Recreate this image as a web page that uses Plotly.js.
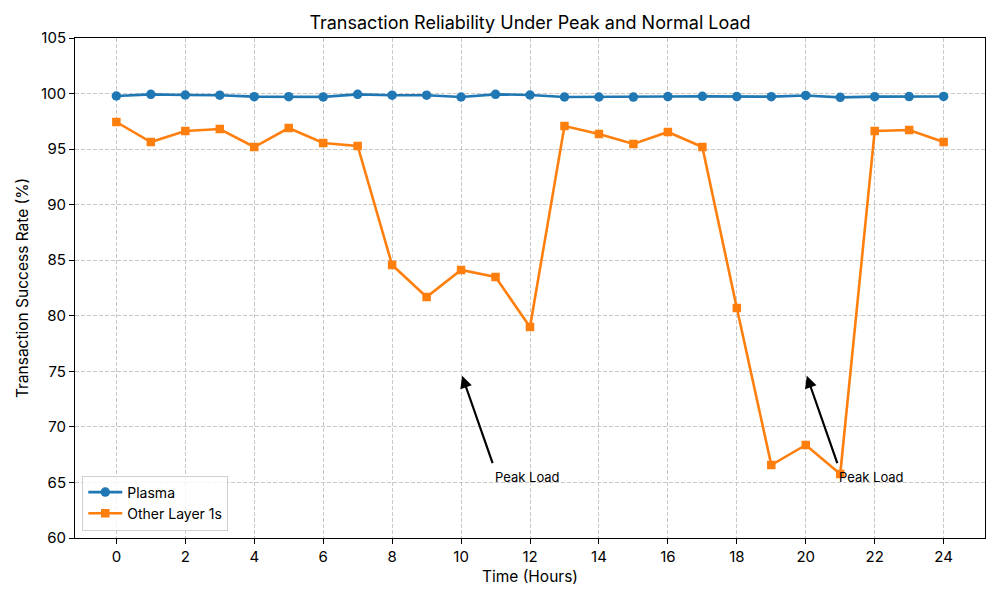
<!DOCTYPE html>
<html>
<head>
<meta charset="utf-8">
<script src="https://cdn.plot.ly/plotly-3.0.1.min.js"></script>
<style>html,body{margin:0;padding:0;background:#fff}#chart{width:1000px;height:600px}</style>
</head>
<body>
<div id="chart"></div>
<script>
const hours = [0,1,2,3,4,5,6,7,8,9,10,11,12,13,14,15,16,17,18,19,20,21,22,23,24];
const plasma = [99.78,99.93,99.87,99.85,99.72,99.72,99.7,99.93,99.85,99.85,99.69,99.93,99.87,99.69,99.69,99.68,99.73,99.75,99.73,99.72,99.83,99.66,99.72,99.73,99.74];
const otherL1 = [97.44,95.64,96.63,96.81,95.19,96.9,95.55,95.28,84.57,81.69,84.12,83.49,78.99,97.08,96.36,95.46,96.54,95.19,80.7,66.57,68.37,65.76,96.63,96.72,95.64];
const seriesNames = ["Plasma","Other Layer 1s"];
const xTicks = [0,2,4,6,8,10,12,14,16,18,20,22,24];
const yTicks = [60,65,70,75,80,85,90,95,100,105];
const peakLabel = "Peak Load";
const peakPoints = [10, 20];

const FONT = "Inter, 'DejaVu Sans', sans-serif";

const traces = [
  {x: hours, y: plasma, name: seriesNames[0], mode: "lines+markers",
   line: {color: "#1f77b4", width: 2.6}, marker: {symbol: "circle", size: 9.5, color: "#1f77b4"}},
  {x: hours, y: otherL1, name: seriesNames[1], mode: "lines+markers",
   line: {color: "#ff7f0e", width: 2.6}, marker: {symbol: "square", size: 8.5, color: "#ff7f0e"}}
];

const annotations = [];
peakPoints.forEach(p => {
  annotations.push({x: p + 0.03, y: 74.6, xref: "x", yref: "y", ax: p + 0.93, ay: 66.6, axref: "x", ayref: "y",
    text: "", showarrow: true, arrowhead: 2, arrowsize: 1.1, arrowwidth: 2.2, arrowcolor: "#000"});
  annotations.push({x: p + 1, y: 65.5, xref: "x", yref: "y", text: peakLabel, showarrow: false,
    xanchor: "left", yanchor: "middle", xshift: -3, font: {family: FONT, size: 13, color: "#000"}});
});

const axisCommon = {
  showline: true, linecolor: "#000", linewidth: 1, mirror: true,
  ticks: "outside", ticklen: 5, tickcolor: "#000", tickwidth: 1,
  showgrid: true, gridcolor: "#c8c8c8", griddash: "4px,2px", gridwidth: 1,
  zeroline: false, tickfont: {family: FONT, size: 15, color: "#000"}
};

const layout = {
  width: 1000, height: 600,
  margin: {l: 75, r: 15, t: 38, b: 62},
  paper_bgcolor: "#fff", plot_bgcolor: "#fff",
  font: {family: FONT, color: "#000"},
  title: {text: "Transaction Reliability Under Peak and Normal Load", x: 0.53, xanchor: "center", y: 0.963, yanchor: "middle",
          font: {family: FONT, size: 18, color: "#000"}},
  xaxis: Object.assign({}, axisCommon, {range: [-1.2, 25.2], tickvals: xTicks,
          title: {text: "Time (Hours)", font: {family: FONT, size: 15.5}, standoff: 6}}),
  yaxis: Object.assign({}, axisCommon, {range: [60, 105], tickvals: yTicks,
          title: {text: "Transaction Success Rate (%)", font: {family: FONT, size: 15.5}, standoff: 8}}),
  legend: {x: 0.008, y: 0.015, xanchor: "left", yanchor: "bottom", bgcolor: "rgba(255,255,255,0.8)",
           bordercolor: "#d0d0d0", borderwidth: 1, itemwidth: 34, font: {family: FONT, size: 14, color: "#000"}},
  annotations: annotations,
  showlegend: true
};

Plotly.newPlot("chart", traces, layout, {displayModeBar: false, staticPlot: true});
</script>
</body>
</html>
